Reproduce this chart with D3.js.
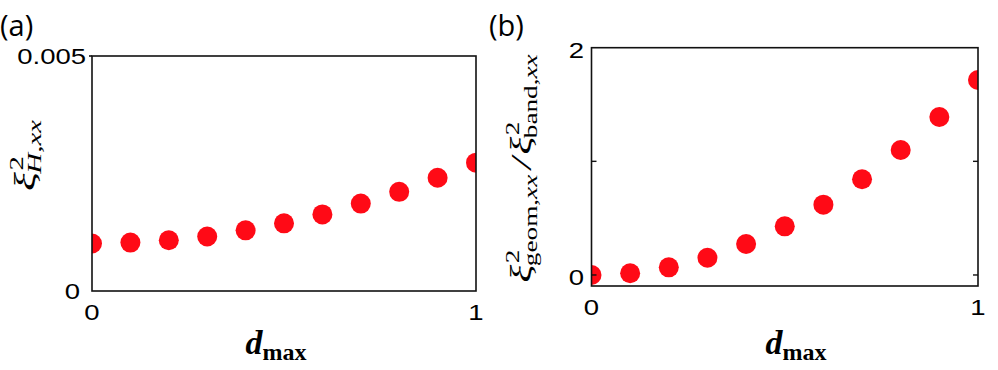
<!DOCTYPE html>
<html lang="en">
<head>
<meta charset="UTF-8">
<title>xi vs dmax</title>
<script src="https://d3js.org/d3.v7.min.js"></script>
<style>
  body { margin: 0; background: #fff; }
  .tick-label { font-family: "Liberation Sans", Arial, sans-serif; font-size: 22px; fill: #000; }
  .panel-tag { font-family: "Open Sans", sans-serif; font-size: 29px; fill: #000; }
  .math { font-family: "Liberation Serif", serif; fill: #000; }
</style>
</head>
<body>
<svg id="chart" width="998" height="370"></svg>
<script>
// data
const dmax = [0, 0.1, 0.2, 0.3, 0.4, 0.5, 0.6, 0.7, 0.8, 0.9, 1.0];
const xiH = [0.00101, 0.00103, 0.00108, 0.00116, 0.00129, 0.00144, 0.00163, 0.00186, 0.00211, 0.00241, 0.00273];
const ratio = [0.0, 0.015, 0.067, 0.152, 0.273, 0.428, 0.619, 0.842, 1.100, 1.390, 1.716];

const xTicks = [0, 1];
const yTicksA = [0, 0.005];
const yTicksB = [0, 1, 2];

const svg = d3.select("#chart");
const red = "#ff0a16";
const stretch = 1.25; // the original figure is a bit wider than tall

function label(g, x, y, anchor, txt) {
    g.append("text")
        .attr("class", "tick-label")
        .attr("text-anchor", anchor)
        .attr("transform", "translate(" + x + "," + y + ") scale(" + stretch + ",1)")
        .attr("dy", "0.36em")
        .text(txt);
}

function panel(id, box, yDomain, values, yTicks, yLabelFmt, innerTicks) {
    const x = d3.scaleLinear().domain([0, 1]).range([box.left, box.right]);
    const y = d3.scaleLinear().domain(yDomain).range([box.bottom, box.top]);
    const g = svg.append("g");

    g.append("clipPath").attr("id", "clip-" + id)
        .append("rect")
        .attr("x", box.left).attr("y", box.top)
        .attr("width", box.right - box.left).attr("height", box.bottom - box.top);

    // dots
    g.append("g").attr("clip-path", "url(#clip-" + id + ")")
        .selectAll("circle")
        .data(dmax)
        .join("circle")
        .attr("cx", d => x(d))
        .attr("cy", (d, i) => y(values[i]))
        .attr("r", 10)
        .attr("fill", red);

    // frame
    g.append("rect")
        .attr("x", box.left).attr("y", box.top)
        .attr("width", box.right - box.left).attr("height", box.bottom - box.top)
        .attr("fill", "none")
        .attr("stroke", "#111")
        .attr("stroke-width", 1.6);

    if (innerTicks) {
        innerTicks.forEach(v => {
            g.append("line").attr("x1", box.left).attr("x2", box.left + 5)
                .attr("y1", y(v)).attr("y2", y(v)).attr("stroke", "#111").attr("stroke-width", 1.4);
            g.append("line").attr("x1", box.right - 5).attr("x2", box.right)
                .attr("y1", y(v)).attr("y2", y(v)).attr("stroke", "#111").attr("stroke-width", 1.4);
        });
    } else {
        // short outward tick at the top
        g.append("line").attr("x1", box.left - 3).attr("x2", box.left)
            .attr("y1", box.top).attr("y2", box.top).attr("stroke", "#111").attr("stroke-width", 1.6);
    }

    // y tick labels
    yTicks.forEach(d => label(g, d === 0 ? box.zeroX : box.labelX, y(d) + box.labelDy, "end", yLabelFmt(d)));

    // x tick labels
    xTicks.forEach(d => label(g, x(d), box.bottom + 21, "middle", d));

    // x title d_max
    const t = g.append("text")
        .attr("class", "math")
        .attr("text-anchor", "middle")
        .attr("x", box.titleX)
        .attr("y", 354)
        .attr("font-weight", "bold");
    t.append("tspan").attr("font-style", "italic").attr("font-size", 34).text("d");
    t.append("tspan").attr("font-size", 24).attr("dy", 6).text("max");

    return g;
}

// one xi with stacked super/sub script, returns advance
function xiScript(g, x0, subParts) {
    const main = g.append("text").attr("class", "math")
        .attr("x", x0).attr("y", 0)
        .attr("font-style", "italic").attr("font-size", 29).text("\u03BE");
    const w = main.node().getComputedTextLength();
    const sup = g.append("text").attr("class", "math")
        .attr("x", x0 + w + 1).attr("y", -12).attr("font-size", 19).text("2");
    const sub = g.append("text").attr("class", "math")
        .attr("x", x0 + w - 1).attr("y", 6).attr("font-size", 19);
    subParts.forEach(p => sub.append("tspan").attr("font-style", p.italic ? "italic" : "normal").text(p.t));
    const ws = Math.max(sup.node().getComputedTextLength(), sub.node().getComputedTextLength());
    return x0 + w + ws;
}

// rotated title, stretched along its length like the original
function yTitle(cx, cy, len, build) {
    const g = svg.append("g");
    const inner = g.append("g");
    build(inner);
    const bb = inner.node().getBBox();
    const sx = len / bb.width;
    inner.attr("transform", "scale(" + sx + ",1) translate(" + (-bb.x - bb.width / 2) + ",0)");
    g.attr("transform", "translate(" + cx + "," + cy + ") rotate(-90)");
}

const boxA = {left: 92, right: 476, top: 56, bottom: 291, labelX: 86, zeroX: 80, labelDy: 0, titleX: 276};
const boxB = {left: 591.5, right: 978, top: 47.7, bottom: 286, labelX: 584, zeroX: 584, labelDy: 2, titleX: 796};

panel("a", boxA, [0, 0.005], xiH, yTicksA, d => d === 0 ? "0" : d3.format(".3f")(d), null);
panel("b", boxB, [-0.097, 2], ratio, [0, 2], d => d, [0, 1]);

svg.append("text").attr("class", "panel-tag").attr("x", 0).attr("y", 36).text("(a)");
svg.append("text").attr("class", "panel-tag").attr("x", 489).attr("y", 36).text("(b)");

yTitle(35, 155, 72, g => {
    xiScript(g, 0, [{t: "H", italic: true}, {t: ",", italic: false}, {t: "xx", italic: true}]);
});

yTitle(531, 168, 229, g => {
    let x = xiScript(g, 0, [{t: "geom", italic: false}, {t: ",", italic: false}, {t: "xx", italic: true}]);
    const slash = g.append("text").attr("class", "math")
        .attr("x", x + 3).attr("y", 0)
        .attr("font-style", "italic").attr("font-size", 29).text("/");
    x = x + 3 + slash.node().getComputedTextLength() + 2;
    xiScript(g, x, [{t: "band", italic: false}, {t: ",", italic: false}, {t: "xx", italic: true}]);
});
</script>
</body>
</html>
